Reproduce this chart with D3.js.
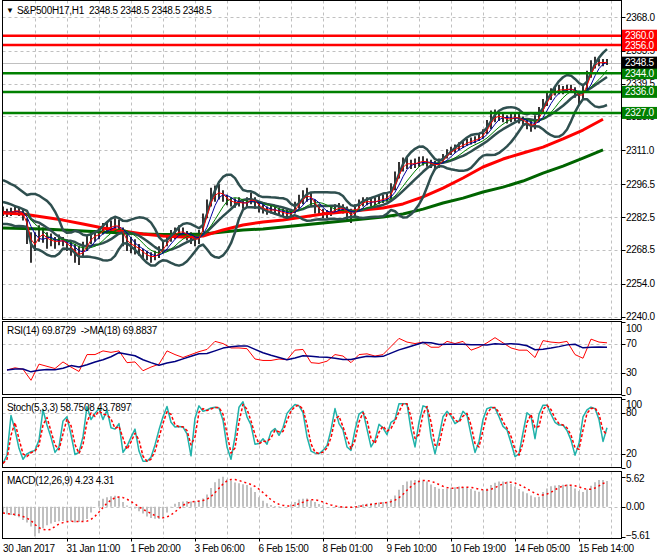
<!DOCTYPE html>
<html>
<head>
<meta charset="utf-8">
<script src="https://cdn.jsdelivr.net/npm/d3@7"></script>
<style>
  body { margin: 0; background: #fff; }
  svg text { font-family: "Liberation Sans", Arial, sans-serif; font-size: 10px; fill: #000; letter-spacing: -0.3px; }
</style>
</head>
<body>
<svg id="chart" width="660" height="560"></svg>
<script>
// ---- data (one price sample every 2 H1 bars) ----
const priceHigh = [2287,2286,2286.5,2287.5,2286.5,2285.5,2282,2276,2276,2279,
  2278,2276,2275.5,2274,2275,2274,2273,2272,2271,2270,
  2272,2274.5,2277,2277,2278,2280,2280,2281,2282,2281.5,
  2278,2275,2274,2273,2271,2269,2268,2267.5,2268,2270,
  2272,2275,2277,2278,2279,2278,2276.5,2276,2275,2277,
  2284,2290,2295,2296,2296.5,2294,2292,2291,2290.5,2291,
  2290,2291,2293,2291,2289,2288,2287,2287.5,2287,2286.5,
  2286,2285.5,2286,2289,2292,2294,2295,2293,2290,2288,
  2286,2285.5,2287,2288,2288.5,2288,2287,2286,2288,2290,
  2291,2291,2290.5,2291,2291.5,2292,2292.5,2297,2302,2306,
  2308,2308,2307,2307.5,2308.3,2308.5,2307.5,2307,2306.5,2307.5,
  2309.5,2311.5,2312.5,2313.5,2314.5,2315,2316,2316.5,2317,2318,
  2320,2324,2328,2328.5,2327.5,2326.5,2326,2326.5,2327,2326.5,
  2325.5,2324.5,2323.5,2326,2329.5,2333,2336,2337.5,2338.5,2339,
  2338.5,2339,2339,2338,2336.5,2339.5,2345,2349.5,2351,2350,
  2350,2350];
const priceLow = [2283,2282.5,2283,2283.5,2283,2281,2271,2263,2268,2272,
  2271.5,2269,2270,2269,2270.5,2270,2268,2266,2263,2262,
  2265,2268,2271,2272,2273,2275,2275.5,2276,2276,2275,
  2270,2268,2267,2266.5,2266,2264.5,2264,2263,2264,2265,
  2267,2270,2272,2273,2274,2273.5,2272.5,2271,2270,2271,
  2276,2282,2287,2289,2290,2289,2287.5,2287,2286.5,2287,
  2286,2287,2288,2286,2284.5,2284,2283.5,2284,2283.5,2283,
  2282.5,2282,2282,2284,2286,2288,2289,2287,2284,2283,
  2282,2282,2283,2284,2284.5,2284,2281,2280,2283,2286,
  2287,2287.5,2287,2287.5,2288,2288.5,2289,2290,2294,2299,
  2302,2303,2303,2303.5,2304,2304.5,2304,2303.5,2302.5,2303.5,
  2305.5,2307.5,2309,2310,2311,2312,2313,2313.5,2314,2315,
  2316,2318,2320,2323,2323.5,2323,2322.5,2323,2323.5,2322.5,
  2321.5,2320,2319,2320,2323,2326.5,2330,2332.5,2334.5,2335,
  2335,2335.5,2335.5,2333.5,2330,2333,2337,2342,2346,2347,
  2347,2347.5];

// Bollinger values read at the left edge, where the window has no history yet
const bbUpperEdge = [2298.3, 2297.5, 2296.6, 2295.8, 2294.5, 2293.2, 2291.9];
const bbMidEdge = [2288.9, 2288.5, 2287.9, 2287.2, 2286.6, 2285.9, 2285.1];
const bbLowerEdge = [2279.5, 2279.5, 2279.2, 2278.6, 2278.7, 2278.6, 2278.3];

// slow moving averages, one value every 10 bars
const slowRedMA = [2284.2,2283.8,2282.5,2281.2,2279.5,2277.8,2276.5,2275.3,2274.4,2274.0,
  2274.4,2277.0,2279.1,2280.4,2281.2,2282.5,2283.8,2284.7,2285.5,2286.4,
  2288.1,2291.1,2294.9,2299.2,2303.9,2307.3,2309.9,2312.4,2315.9,2319.7,2324.3];
const slowGreenMA = [2277.8,2277.6,2277.4,2277.0,2276.5,2276.1,2275.7,2275.3,2275.0,2275.0,
  2275.3,2276.1,2277.0,2277.4,2278.2,2279.1,2280.0,2280.8,2281.7,2282.5,
  2283.8,2285.9,2288.5,2290.6,2293.2,2295.3,2297.9,2301.3,2304.3,2307.7,2311.2];

// RSI(14), one value every 4 bars
const rsiValues = [34,37,35,20,42,39,36,45,38,32,
  55,55,60,58,60,44,45,33,38,42,
  60,55,51,55,59,62,73,70,64,64,
  63,49,47,47,49,48,61,62,44,43,
  46,55,53,44,55,56,53,55,66,77,
  72,70,72,65,65,73,70,73,61,65,
  71,78,71,64,61,61,51,74,72,71,
  73,55,50,76,72,71];

// Stoch main line, every 2 bars
const stochMain = [6,18,76,55,28,12,20,23,25,40,
  84,62,44,22,30,68,74,48,19,22,
  45,89,70,79,86,70,84,58,56,64,
  22,31,44,56,24,9,9,15,33,55,
  74,89,66,59,60,59,49,17,72,90,
  82,84,87,88,87,69,30,12,45,88,
  96,74,62,34,35,42,34,52,57,47,
  58,79,86,92,90,80,45,24,21,20,
  25,32,55,86,64,55,30,25,55,78,
  82,56,30,40,63,58,48,66,70,93,
  93,93,55,30,66,90,88,45,20,45,
  74,82,75,64,68,82,76,48,22,38,
  70,86,88,87,74,60,55,36,16,20,
  51,80,75,42,78,91,91,78,66,62,
  62,54,40,18,35,74,84,88,86,70,
  38,58];

// MACD main (histogram), every 2 bars
const macdMain = [-1.2,-1.4,-1.55,-1.75,-2.0,-2.5,-2.95,-3.7,-5.6,-5.0,
  -4.05,-3.5,-3.15,-2.85,-2.75,-2.7,-2.7,-2.75,-2.95,-2.85,
  -2.75,-2.3,-1.1,0,1.1,1.5,1.75,1.95,2.05,1.85,
  0.9,0.2,-0.1,-0.35,-0.85,-1.3,-1.85,-2.1,-2.25,-2.3,
  -1.95,-1.1,-0.1,0.55,0.9,0.95,1.05,0.95,1.0,1.2,
  1.55,2.3,3.5,4.6,5.25,5.62,5.15,4.9,4.55,4.4,
  4.2,4.05,3.6,2.75,1.75,1.1,0.65,0.3,0.15,0.1,
  0.05,0,0.45,0.9,1.35,1.5,1.55,1.2,0.9,0.5,
  0.25,0,0,-0.1,-0.15,-0.2,-0.1,0.05,0.15,0.3,
  0.45,0.55,0.65,0.7,0.8,0.9,0.9,1.4,2.1,3.15,
  4.05,4.7,4.9,5.0,5.0,4.9,4.7,4.15,3.7,3.35,
  3.3,3.4,3.55,3.65,3.8,3.7,3.6,3.3,3.0,2.8,
  3.05,3.4,4.05,4.5,4.7,4.7,4.7,4.25,3.8,3.3,
  2.85,2.5,2.1,1.75,1.85,2.75,3.4,3.85,3.95,4.05,
  4.1,4.15,3.95,3.4,2.95,2.75,3.25,3.9,4.6,5.0,
  5.0,4.8];

const priceTicks = [2368.0, 2353.5, 2339.5, 2325.5, 2311.0, 2296.5, 2282.5, 2268.5, 2254.0, 2240.0];
const redLevels = [2360.0, 2356.0];
const greenLevels = [2344.0, 2336.0, 2327.0];
const lastPrice = 2348.5;
const rsiTicks = [100, 70, 30, 0];
const stochTicks = [100, 80, 20, 0];
const macdTicks = [5.62, 0, -5.61];
const timeLabels = ["30 Jan 2017", "31 Jan 11:00", "1 Feb 20:00", "3 Feb 06:00", "6 Feb 15:00",
  "8 Feb 01:00", "9 Feb 10:00", "10 Feb 19:00", "14 Feb 05:00", "15 Feb 14:00"];

// ---- layout ----
const svg = d3.select("#chart");
const left = 2.5, right = 621.5;
const panels = {
  main: { top: 0.5, bottom: 319.5 },
  rsi: { top: 321.5, bottom: 394.5 },
  stoch: { top: 397.5, bottom: 467.5 },
  macd: { top: 471.5, bottom: 538.5 }
};

const xBar = d3.scaleLinear().domain([0, 302]).range([3, 607]);
const yMain = d3.scaleLinear().domain([2240, 2368]).range([316.5, 17]);
const yRsi = d3.scaleLinear().domain([0, 100]).range([395, 321.5]);
const yStoch = d3.scaleLinear().domain([0, 100]).range([467.5, 399]);
const yMacd = d3.scaleLinear().domain([-5.61, 5.62]).range([536.6, 476.7]);

const sma = (arr, n) => arr.map((_, i) => d3.mean(arr.slice(Math.max(0, i - n + 1), i + 1)));

// indicators derived from the price samples
const mid = priceHigh.map((h, k) => (h + priceLow[k]) / 2);
const maFast = sma(mid, 2);
const maMed = sma(mid, 4);
const maThin = sma(mid, 7);
const bbMid = sma(mid, 10);
const bbDev = mid.map((_, i) => {
  const w = mid.slice(Math.max(0, i - 9), i + 1);
  const m = d3.mean(w);
  return Math.sqrt(d3.mean(w, v => (v - m) ** 2));
});
const bbUp = bbMid.map((m, i) => i < bbUpperEdge.length ? bbUpperEdge[i] : m + 2 * bbDev[i]);
const bbLo = bbMid.map((m, i) => i < bbLowerEdge.length ? bbLowerEdge[i] : m - 2 * bbDev[i]);
const bbCenter = bbMid.map((m, i) => i < bbMidEdge.length ? bbMidEdge[i] : m);
const rsiMA = sma(rsiValues, 5);
const stochSignal = sma(stochMain, 2);
const macdSignal = sma(macdMain, 5);

// clip paths per panel
const defs = svg.append("defs");
Object.entries(panels).forEach(([name, p]) => {
  defs.append("clipPath").attr("id", "clip-" + name)
    .append("rect").attr("x", left).attr("y", p.top).attr("width", right - left).attr("height", p.bottom - p.top);
});

function grid(p, yScale, hTicks) {
  const g = svg.append("g").attr("stroke", "#c0c0c0").attr("stroke-dasharray", "3,3");
  g.selectAll("line.v").data(d3.range(16, 305, 16)).join("line").attr("class", "v")
    .attr("x1", d => Math.round(xBar(d)) + 0.5).attr("x2", d => Math.round(xBar(d)) + 0.5)
    .attr("y1", p.top).attr("y2", p.bottom);
  g.selectAll("line.h").data(hTicks).join("line").attr("class", "h")
    .attr("x1", left).attr("x2", right)
    .attr("y1", d => Math.round(yScale(d)) + 0.5).attr("y2", d => Math.round(yScale(d)) + 0.5);
}

grid(panels.main, yMain, priceTicks);
grid(panels.rsi, yRsi, [70, 30]);
grid(panels.stoch, yStoch, [80, 20]);
grid(panels.macd, yMacd, [0]);

const lineAt = (step, offset, yScale) => d3.line()
  .x((d, i) => xBar(offset + step * i))
  .y(d => yScale(d));

// ---- main panel ----
const gMain = svg.append("g").attr("clip-path", "url(#clip-main)");

gMain.append("line").attr("x1", left).attr("x2", right)
  .attr("y1", Math.round(yMain(lastPrice)) + 0.5).attr("y2", Math.round(yMain(lastPrice)) + 0.5)
  .attr("stroke", "#c0c0c0");

gMain.selectAll("line.bar").data(priceHigh).join("line").attr("class", "bar")
  .attr("x1", (d, k) => xBar(2 * k)).attr("x2", (d, k) => xBar(2 * k))
  .attr("y1", d => yMain(d)).attr("y2", (d, k) => yMain(priceLow[k]))
  .attr("stroke", "#000").attr("stroke-width", 1.6);

const drawLine = (g, data, gen, color, width, dash) => g.append("path").datum(data)
  .attr("d", gen).attr("fill", "none").attr("stroke", color).attr("stroke-width", width)
  .attr("stroke-dasharray", dash || null).attr("stroke-linejoin", "round");

drawLine(gMain, slowGreenMA, lineAt(10, 0, yMain), "#006400", 3);
drawLine(gMain, slowRedMA, lineAt(10, 0, yMain), "#ff0000", 3);
[bbUp, bbCenter, bbLo].forEach(s => drawLine(gMain, s, lineAt(2, 0, yMain), "#2f4f4f", 2.5));
drawLine(gMain, maThin, lineAt(2, 0, yMain), "#008000", 1);
drawLine(gMain, maMed, lineAt(2, 0, yMain), "#0000a0", 1);
drawLine(gMain, maFast, lineAt(2, 0, yMain), "#ff0000", 1);

// horizontal levels
const levels = redLevels.map(v => ({ v, c: "#ff0000" })).concat(greenLevels.map(v => ({ v, c: "#008000" })));
gMain.selectAll("line.level").data(levels).join("line").attr("class", "level")
  .attr("x1", left).attr("x2", right)
  .attr("y1", d => yMain(d.v)).attr("y2", d => yMain(d.v))
  .attr("stroke", d => d.c).attr("stroke-width", 2.5);

// ---- RSI ----
const gRsi = svg.append("g").attr("clip-path", "url(#clip-rsi)");
drawLine(gRsi, rsiValues, lineAt(4, 2, yRsi), "#ff0000", 1);
drawLine(gRsi, rsiMA, lineAt(4, 2, yRsi), "#000080", 1.5);

// ---- Stoch ----
const gSt = svg.append("g").attr("clip-path", "url(#clip-stoch)");
drawLine(gSt, stochMain, lineAt(2, 0, yStoch), "#20b2aa", 1.5);
drawLine(gSt, stochSignal, lineAt(2, 0, yStoch), "#ff0000", 1.5, "3,2");

// ---- MACD ----
const gMacd = svg.append("g").attr("clip-path", "url(#clip-macd)");
gMacd.selectAll("line").data(macdMain).join("line")
  .attr("x1", (d, k) => xBar(2 * k)).attr("x2", (d, k) => xBar(2 * k))
  .attr("y1", yMacd(0)).attr("y2", d => yMacd(d))
  .attr("stroke", "#c0c0c0").attr("stroke-width", 2);
drawLine(gMacd, macdSignal, lineAt(2, 0, yMacd), "#ff0000", 1.5, "2,3");

// panel frames
Object.values(panels).forEach(p => {
  svg.append("rect").attr("x", left).attr("y", p.top).attr("width", right - left).attr("height", p.bottom - p.top)
    .attr("fill", "none").attr("stroke", "#000");
});

// ---- right axes ----
function rightLabels(ticks, yScale, fmt, p) {
  const g = svg.append("g");
  g.selectAll("line").data(ticks).join("line")
    .attr("x1", right).attr("x2", right + 4)
    .attr("y1", d => Math.round(yScale(d)) + 0.5).attr("y2", d => Math.round(yScale(d)) + 0.5)
    .attr("stroke", "#000");
  g.selectAll("text").data(ticks).join("text")
    .attr("x", 626)
    .attr("y", d => Math.max(p.top + 7, Math.min(p.bottom - 3.5, yScale(d))))
    .attr("dy", "0.35em")
    .text(fmt);
}
rightLabels(priceTicks, yMain, d3.format(".1f"), panels.main);
rightLabels(rsiTicks, yRsi, d => d, panels.rsi);
rightLabels(stochTicks, yStoch, d => d, panels.stoch);
rightLabels(macdTicks, yMacd, d3.format(".2f"), panels.macd);

// level price tags
const tags = levels.concat([{ v: lastPrice, c: "#000" }]);
const gTag = svg.append("g");
gTag.selectAll("rect").data(tags).join("rect")
  .attr("x", 622).attr("y", d => yMain(d.v) - 6).attr("width", 35).attr("height", 12)
  .attr("fill", d => d.c);
gTag.selectAll("text").data(tags).join("text")
  .attr("x", 625).attr("y", d => yMain(d.v)).attr("dy", "0.35em")
  .style("fill", "#fff").text(d => d3.format(".1f")(d.v));

// ---- time axis ----
const gTime = svg.append("g");
gTime.selectAll("line").data(timeLabels.slice(1)).join("line")
  .attr("x1", (d, i) => Math.round(xBar(32 * (i + 1))) + 0.5).attr("x2", (d, i) => Math.round(xBar(32 * (i + 1))) + 0.5)
  .attr("y1", panels.macd.bottom).attr("y2", panels.macd.bottom + 3).attr("stroke", "#000");
gTime.selectAll("text").data(timeLabels).join("text")
  .attr("x", (d, i) => xBar(32 * i) - 0.5 + (i === 0 ? 0.5 : 0)).attr("y", 552)
  .text(d => d);

// ---- titles ----
svg.append("text").attr("x", 6).attr("y", 13).style("font-size", "8px").text("▼");
svg.append("text").attr("x", 17).attr("y", 14).style("white-space", "pre")
  .text("S&P500H17,H1  2348.5 2348.5 2348.5 2348.5");
svg.append("text").attr("x", 7).attr("y", 334).style("white-space", "pre")
  .text("RSI(14) 69.8729  ->MA(18) 69.8837");
svg.append("text").attr("x", 7).attr("y", 411).text("Stoch(5,3,3) 58.7508 43.7897");
svg.append("text").attr("x", 7).attr("y", 484).text("MACD(12,26,9) 4.23 4.31");
</script>
</body>
</html>
